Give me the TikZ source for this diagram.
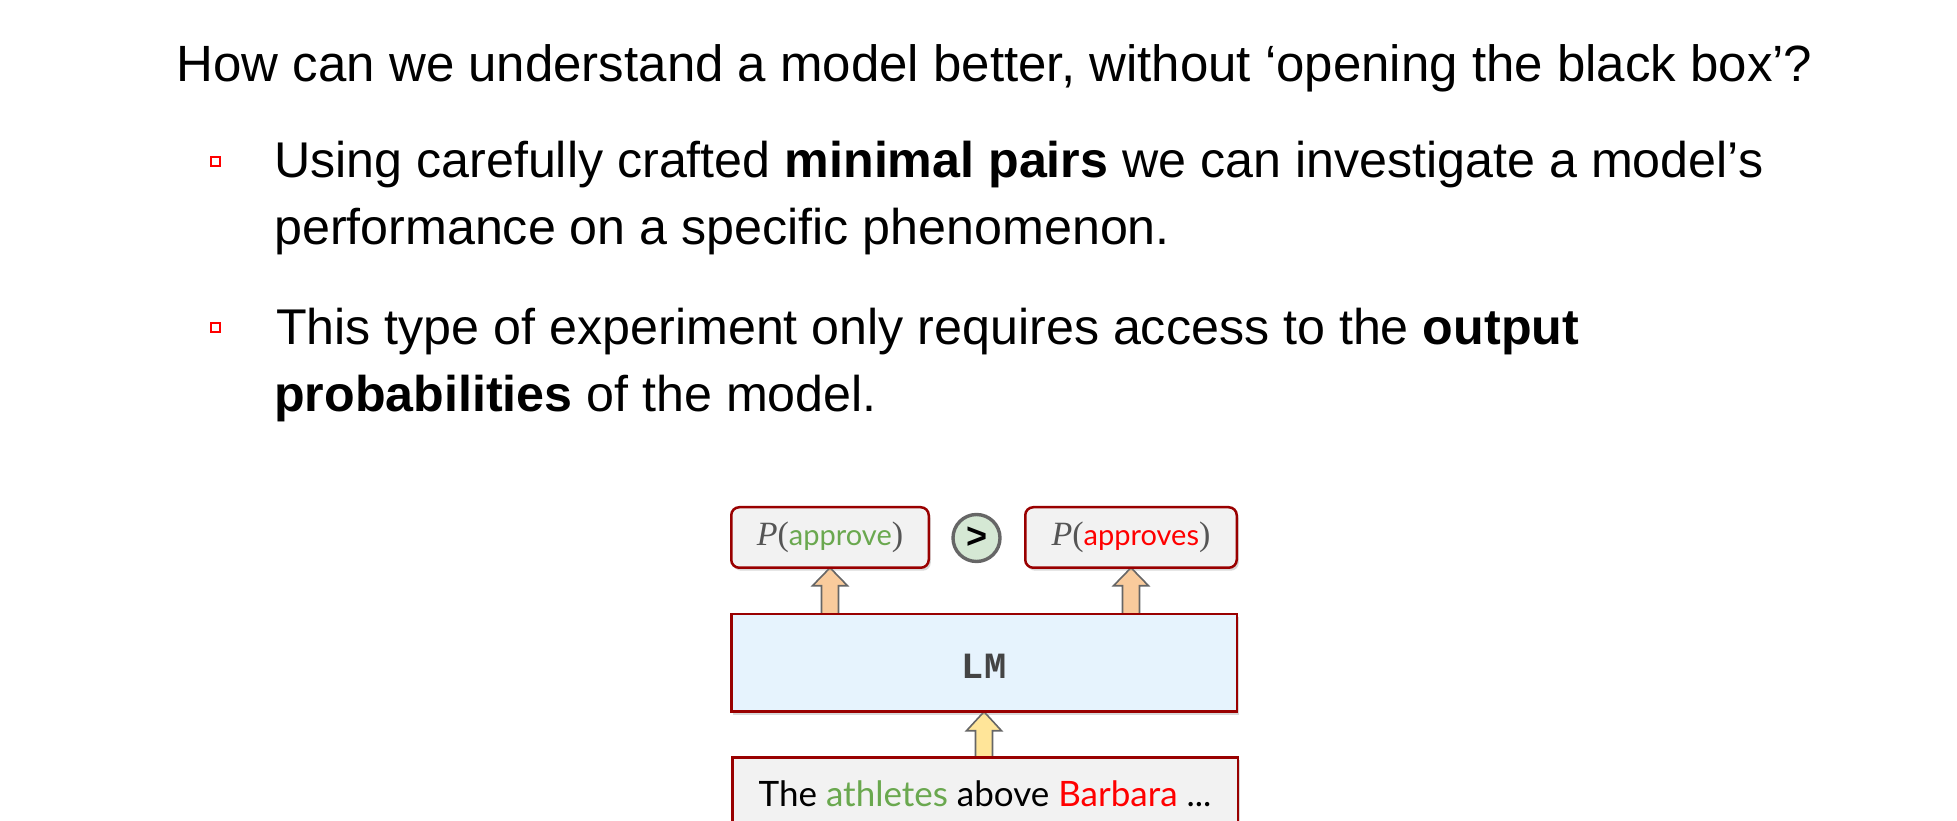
\documentclass[tikz,border=0pt]{standalone}
\usepackage{fontspec}
\setmainfont{Liberation Sans}
\newfontfamily\handfont{Lato}
\newfontfamily\timesfont{Liberation Serif}
\newfontfamily\courfont{Liberation Mono}
\usetikzlibrary{shadows,calc}
\definecolor{boxred}{HTML}{990000}
\definecolor{boxgray}{HTML}{F2F2F2}
\definecolor{lmblue}{HTML}{E6F3FD}
\definecolor{arrgray}{HTML}{666666}
\definecolor{arrorange}{HTML}{F9CB9C}
\definecolor{arryellow}{HTML}{FFE599}
\definecolor{cgreen}{HTML}{D5E8D4}
\definecolor{hgreen}{HTML}{6AA84F}
\definecolor{pgray}{HTML}{555555}
\definecolor{lmtext}{HTML}{444444}
\pgfdeclarelayer{bg}
\pgfsetlayers{bg,main}
\newcommand\blockarrow[4]{%
  \begin{pgfonlayer}{bg}
  \draw[line width=1.6pt, draw=arrgray, fill=#3, line join=miter]
    let \p1=(#1), \p2=(#2) in
    (\x1,\y1) -- (\x1+17.5pt,\y1-#4) -- (\x1+8.5pt,\y1-#4) -- (\x1+8.5pt,\y2)
    -- (\x1-8.5pt,\y2) -- (\x1-8.5pt,\y1-#4) -- (\x1-17.5pt,\y1-#4) -- cycle;
  \end{pgfonlayer}}
\tikzset{
  titleline/.style={anchor=base west, inner sep=0, font=\fontsize{51}{61}\selectfont},
  textline/.style={anchor=base west, inner sep=0, font=\fontsize{50.2}{60}\selectfont},
  bulletsq/.style={draw=red, line width=1.8pt, minimum size=9.5pt, inner sep=0, fill=white},
  pbox/.style={draw=boxred, line width=2.5pt, fill=boxgray, rounded corners=8pt,
    minimum height=60.5pt, inner sep=0, outer sep=0,
    drop shadow={shadow xshift=2pt, shadow yshift=-3pt, opacity=0.3}},
  sqbox/.style={draw=boxred, line width=2.5pt, rectangle, inner sep=0, outer sep=0,
    minimum width=505.5pt,
    drop shadow={shadow xshift=2pt, shadow yshift=-3pt, opacity=0.3}},
}
\newcommand\pword[2]{{\timesfont\color{pgray}\itshape P}{\timesfont\color{pgray}(}{\handfont\fontsize{29}{34}\selectfont\color{#1}#2}{\timesfont\color{pgray})}}
\begin{document}
\begin{tikzpicture}[x=1pt,y=1pt]
\useasboundingbox (0,0) rectangle (1957,821);

\node[titleline] (title) at (176.5,739.3) {How can we understand a model better, without ‘opening the black box’?};

\node[bulletsq] (b1) at (215.5,659.5) {};
\node[textline] (l1) at (274,643) {Using carefully crafted \textbf{minimal pairs} we can investigate a model’s};
\node[textline] (l2) at (274,576) {performance on a specific phenomenon.};
\node[bulletsq] (b2) at (215.5,493.5) {};
\node[textline] (l3) at (276,476) {This type of experiment only requires access to the \textbf{output}};
\node[textline] (l4) at (274,409) {\textbf{probabilities} of the model.};

% diagram
\node[pbox, minimum width=197.5pt, font=\fontsize{34}{40}\selectfont] (pa) at (830,283.5) {\pword{hgreen}{approve}};
\node[pbox, minimum width=211.5pt, font=\fontsize{34}{40}\selectfont] (pb) at (1131,283.5) {\pword{red}{approves}};
\node[circle, draw=arrgray, line width=3.4pt, fill=cgreen, minimum size=47pt, inner sep=0,
      font=\fontsize{36}{40}\selectfont\bfseries] (gt) at (976.5,283) {>};

\node[sqbox, fill=lmblue, minimum height=97.5pt, text height=32pt, text depth=0pt,
      font=\fontsize{37}{40}\selectfont\courfont\bfseries, text=lmtext] (lm) at (984,158) {LM};

\node[sqbox, fill=boxgray, anchor=north, text height=49.5pt, text depth=40pt,
      font=\fontsize{35}{40}\selectfont\handfont] (inp) at (985,63.5)
      {The \textcolor{hgreen}{athletes} above \textcolor{red}{Barbara} ...};

\blockarrow{pa.south}{lm.north}{arrorange}{18pt}
\blockarrow{pb.south}{lm.north}{arrorange}{18pt}
\blockarrow{lm.south}{inp.north}{arryellow}{19pt}
\end{tikzpicture}
\end{document}
